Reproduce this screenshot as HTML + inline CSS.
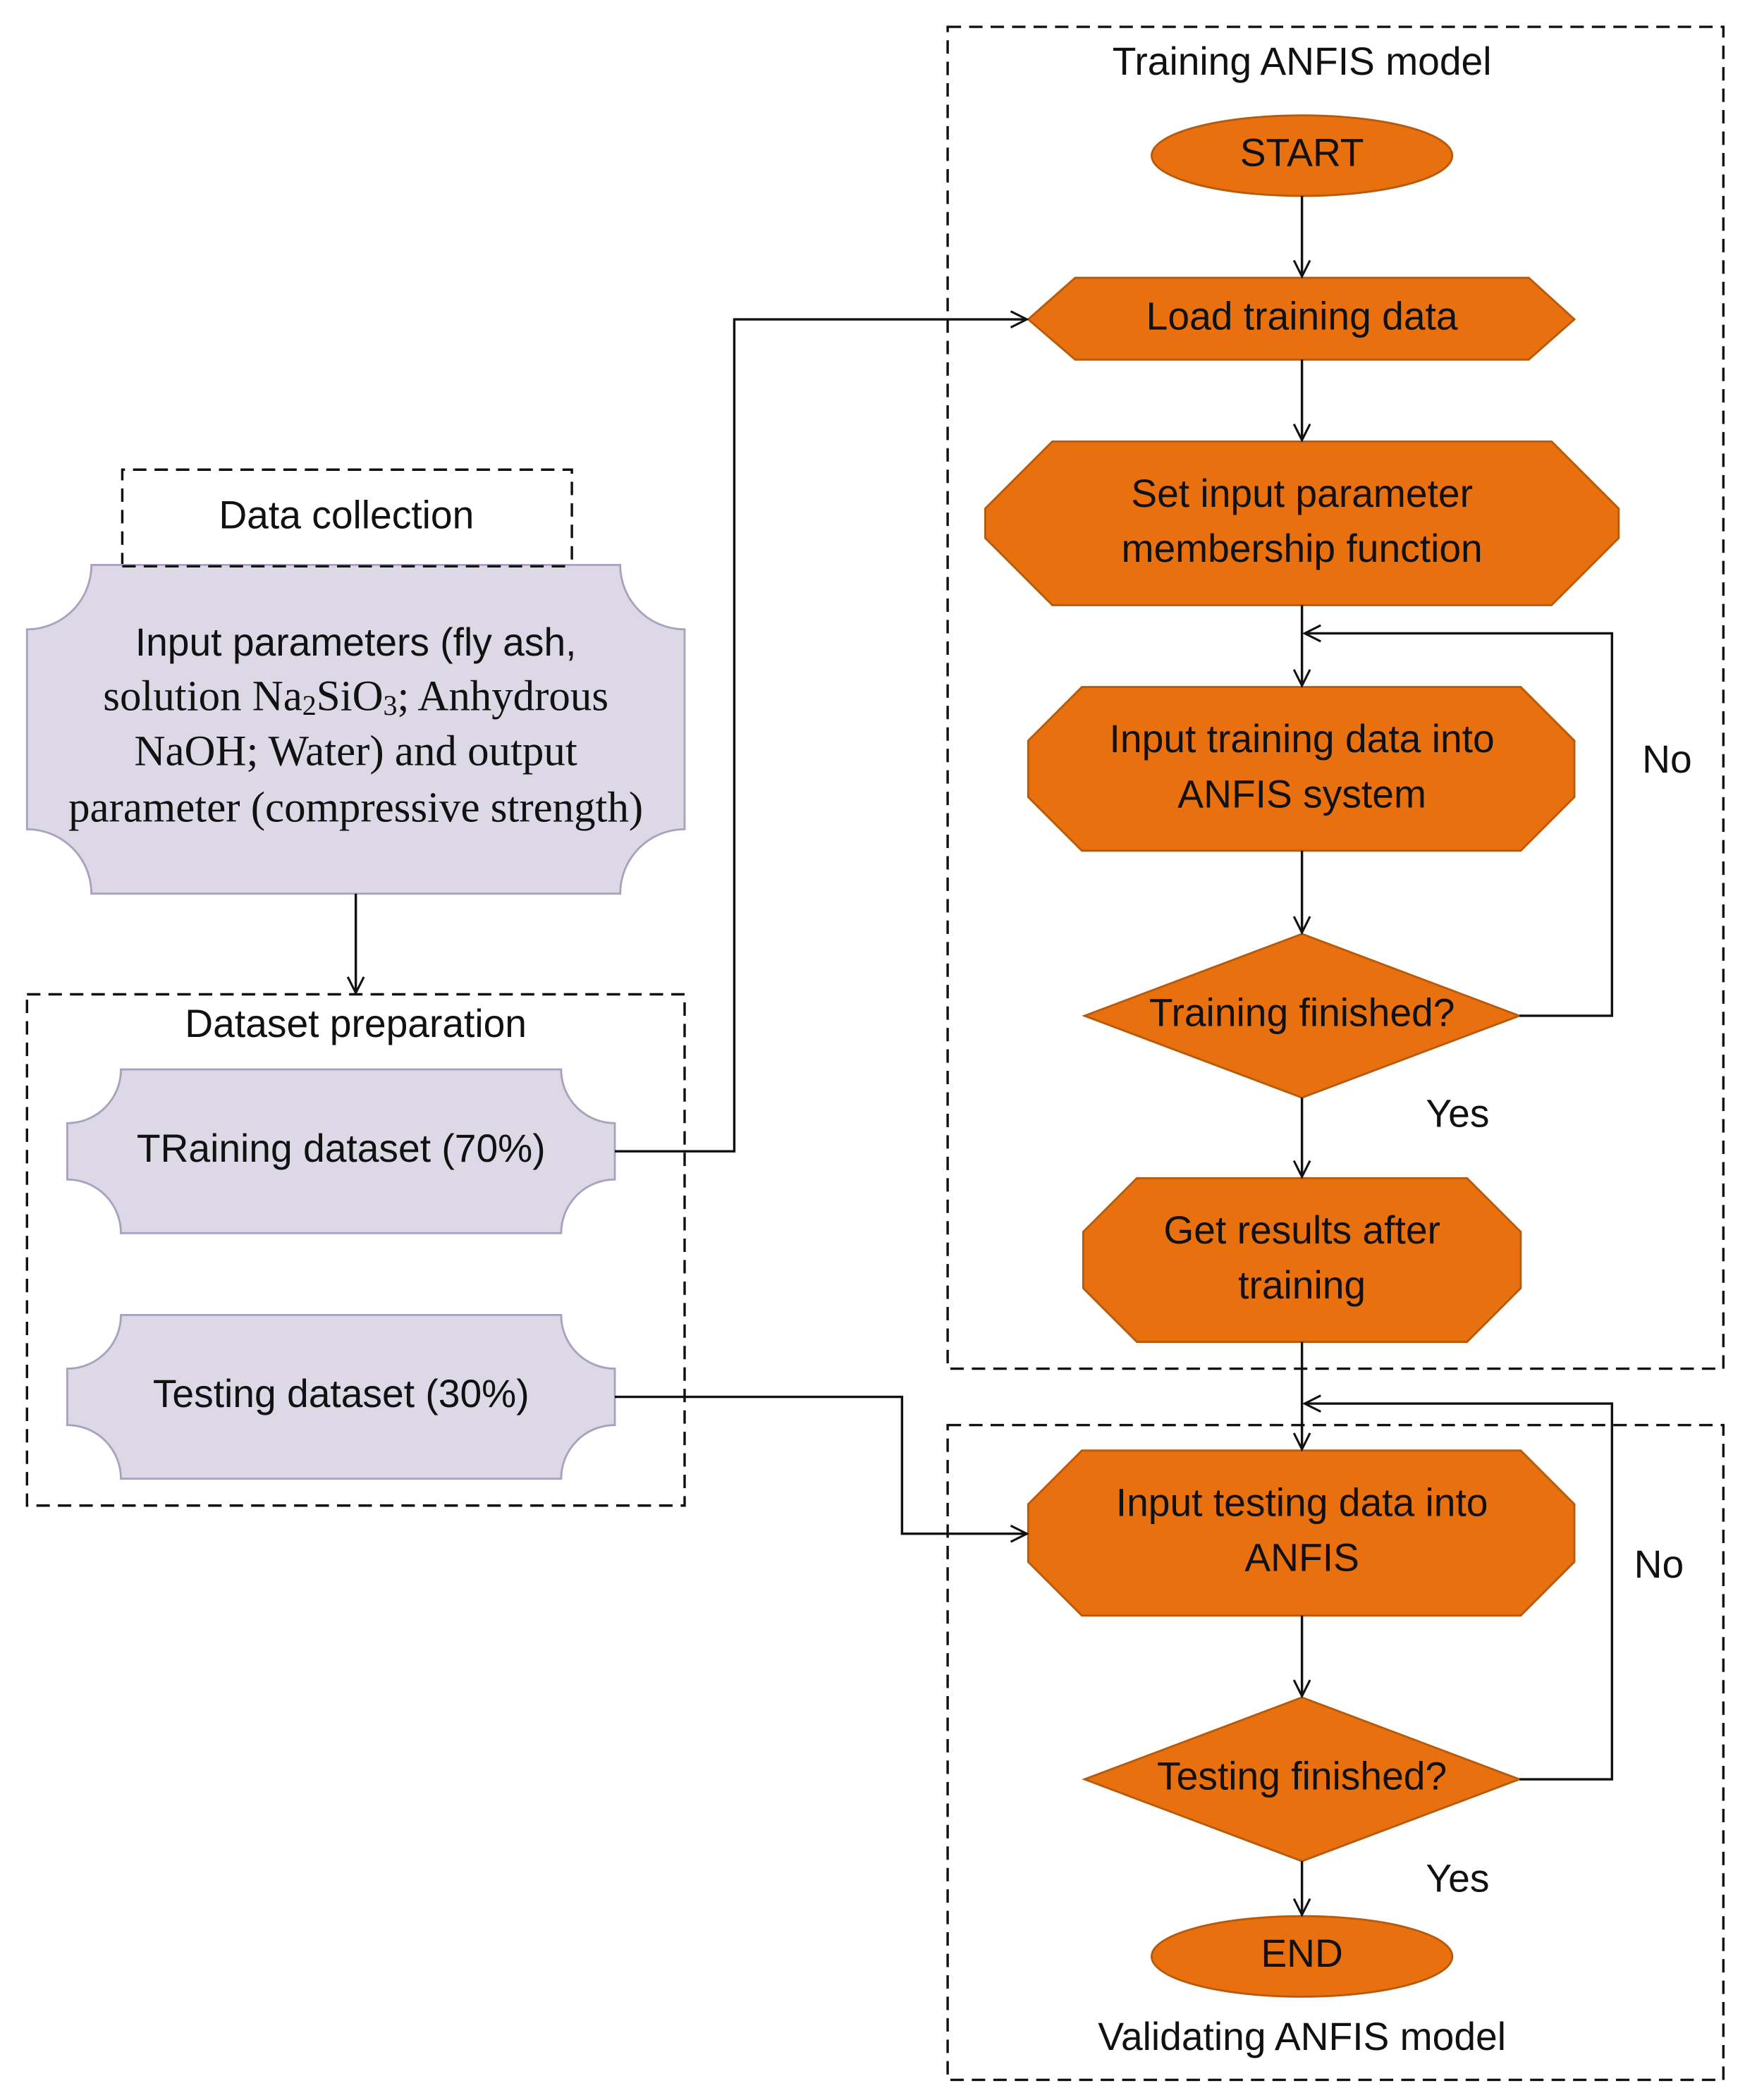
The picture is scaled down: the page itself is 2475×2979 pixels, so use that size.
<!DOCTYPE html>
<html><head><meta charset="utf-8"><style>
html,body{margin:0;padding:0;background:#fff}
svg{display:block}
text{font-family:"Liberation Sans",sans-serif;font-size:29px;fill:#111;text-anchor:middle;dominant-baseline:middle}
.serif{font-family:"Liberation Serif",serif;font-size:32px}
</style></head><body>
<svg width="2475" height="2979" viewBox="0 0 1300 1565" xmlns="http://www.w3.org/2000/svg">
<defs>
<marker id="a" markerWidth="20" markerHeight="20" refX="13" refY="7" orient="auto" markerUnits="userSpaceOnUse">
<path d="M1,1 L13,7 L1,13" fill="none" stroke="#111" stroke-width="1.6"/>
</marker>
</defs>
<g fill="none" stroke="#111" stroke-width="1.8" stroke-dasharray="10,6">
<rect x="706" y="20" width="578" height="1000"/>
<rect x="706" y="1062" width="578" height="488"/>
<rect x="20" y="741" width="490" height="381"/>
<path d="M91,422 L91,350 L426,350 L426,422"/>
</g>
<g fill="#dcd8e6" stroke="#a8a2bf" stroke-width="1.5">
<path d="M68,421 L462,421 A48,48 0 0 0 510,469 L510,618 A48,48 0 0 0 462,666 L68,666 A48,48 0 0 0 20,618 L20,469 A48,48 0 0 0 68,421 Z"/>
<path d="M90,797 L418,797 A40,40 0 0 0 458,837 L458,879 A40,40 0 0 0 418,919 L90,919 A40,40 0 0 0 50,879 L50,837 A40,40 0 0 0 90,797 Z"/>
<path d="M90,980 L418,980 A40,40 0 0 0 458,1020 L458,1062 A40,40 0 0 0 418,1102 L90,1102 A40,40 0 0 0 50,1062 L50,1020 A40,40 0 0 0 90,980 Z"/>
</g>
<line x1="91" y1="422" x2="426" y2="422" stroke="#111" stroke-width="1.8" stroke-dasharray="10,6"/>
<g fill="#e8700f" stroke="#b85a0c" stroke-width="1.5">
<ellipse cx="970" cy="116" rx="112" ry="30"/>
<path d="M801,207 L1139,207 L1173,238 L1139,268 L801,268 L766,238 Z"/>
<path d="M784,329 L1156,329 L1206,379 L1206,401 L1156,451 L784,451 L734,401 L734,379 Z"/>
<path d="M806,512 L1133,512 L1173,552 L1173,594 L1133,634 L806,634 L766,594 L766,552 Z"/>
<path d="M970,696 L1132,757 L970,818 L808,757 Z"/>
<path d="M847,878 L1093,878 L1133,918 L1133,960 L1093,1000 L847,1000 L807,960 L807,918 Z"/>
<path d="M806,1081 L1133,1081 L1173,1121 L1173,1164 L1133,1204 L806,1204 L766,1164 L766,1121 Z"/>
<path d="M970,1265 L1132,1326 L970,1387 L808,1326 Z"/>
<ellipse cx="970" cy="1458" rx="112" ry="30"/>
</g>
<g fill="none" stroke="#111" stroke-width="1.8">
<path d="M970,146 L970,206" marker-end="url(#a)"/>
<path d="M970,268 L970,328" marker-end="url(#a)"/>
<path d="M970,451 L970,511" marker-end="url(#a)"/>
<path d="M970,634 L970,695" marker-end="url(#a)"/>
<path d="M1132,757 L1201,757 L1201,472 L972,472" marker-end="url(#a)"/>
<path d="M970,818 L970,877" marker-end="url(#a)"/>
<path d="M970,1000 L970,1080" marker-end="url(#a)"/>
<path d="M1132,1326 L1201,1326 L1201,1046 L972,1046" marker-end="url(#a)"/>
<path d="M970,1204 L970,1264" marker-end="url(#a)"/>
<path d="M970,1387 L970,1427" marker-end="url(#a)"/>
<path d="M265,666 L265,740" marker-end="url(#a)"/>
<path d="M458,858 L547,858 L547,238 L765,238" marker-end="url(#a)"/>
<path d="M458,1041 L672,1041 L672,1143 L765,1143" marker-end="url(#a)"/>
</g>
<text x="970" y="48">Training ANFIS model</text>
<text x="970" y="116">START</text>
<text x="970" y="238">Load training data</text>
<text x="970" y="370">Set input parameter</text>
<text x="970" y="411">membership function</text>
<text x="970" y="553">Input training data into</text>
<text x="970" y="594">ANFIS system</text>
<text x="970" y="757">Training finished?</text>
<text x="1242" y="568">No</text>
<text x="1086" y="832">Yes</text>
<text x="970" y="919">Get results after</text>
<text x="970" y="960">training</text>
<text x="970" y="1122">Input testing data into</text>
<text x="970" y="1163">ANFIS</text>
<text x="970" y="1326">Testing finished?</text>
<text x="1236" y="1168">No</text>
<text x="1086" y="1402">Yes</text>
<text x="970" y="1458">END</text>
<text x="970" y="1520">Validating ANFIS model</text>
<text x="258" y="386">Data collection</text>
<text x="265" y="481">Input parameters (fly ash,</text>
<text class="serif" x="265" y="522">solution Na<tspan font-size="21" dy="6">2</tspan><tspan dy="-6">SiO</tspan><tspan font-size="21" dy="6">3</tspan><tspan dy="-6">; Anhydrous</tspan></text>
<text class="serif" x="265" y="563">NaOH; Water) and output</text>
<text class="serif" x="265" y="605">parameter (compressive strength)</text>
<text x="265" y="765">Dataset preparation</text>
<text x="254" y="858">TRaining dataset (70%)</text>
<text x="254" y="1041">Testing dataset (30%)</text>
</svg>
</body></html>
